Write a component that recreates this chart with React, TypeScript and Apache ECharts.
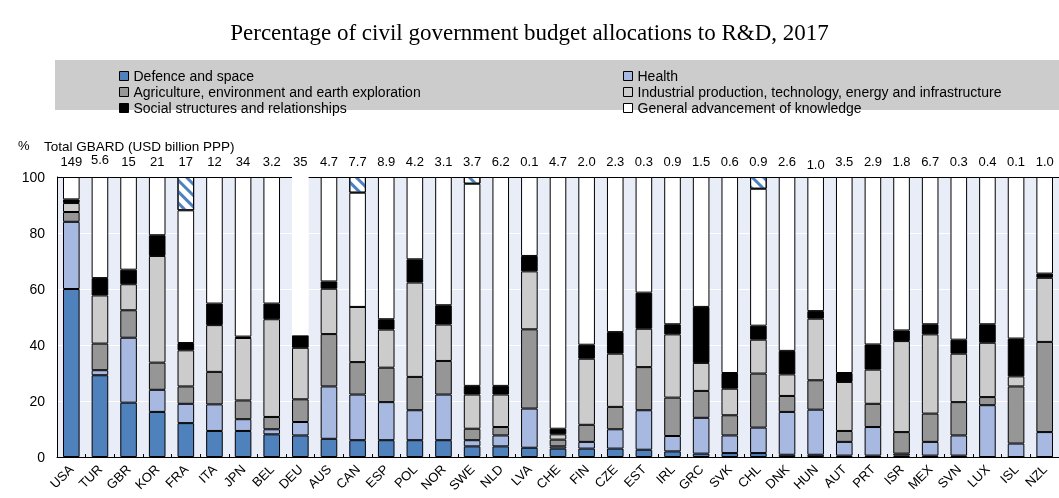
import React, { useEffect, useRef } from 'react';
import * as echarts from 'echarts';

const countries = ['USA','TUR','GBR','KOR','FRA','ITA','JPN','BEL','DEU','AUS','CAN','ESP','POL','NOR','SWE','NLD','LVA','CHE','FIN','CZE','EST','IRL','GRC','SVK','CHL','DNK','HUN','AUT','PRT','ISR','MEX','SVN','LUX','ISL','NZL'];
const gbard = ['149','5.6','15','21','17','12','34','3.2','35','4.7','7.7','8.9','4.2','3.1','3.7','6.2','0.1','4.7','2.0','2.3','0.3','0.9','1.5','0.6','0.9','2.6','1.0','3.5','2.9','1.8','6.7','0.3','0.4','0.1','1.0'];

const defence = [60,29.2,19.4,16.1,12.1,9.3,9.3,8.1,7.7,6.5,6,6,6,6,3.8,3.8,3.3,3,3,3,2.6,2,1.2,1.4,1.4,0.8,0.8,0.5,0.5,0.5,0.5,0.5,0,0,0];
const health = [24,1.8,23.2,7.9,6.9,9.5,4.2,1.8,4.8,18.7,16.3,13.6,10.7,16.3,2.2,3.9,14,0.8,2.4,6.9,14.1,5.5,12.8,6.3,9.1,15.3,16.1,4.9,10.2,0.7,4.9,7.2,18.5,4.8,8.9];
const agriculture = [3.5,9.5,9.8,9.7,6.2,11.6,6.7,4.4,8.1,18.7,11.6,12.3,11.9,12,4.1,3,28.3,2.4,6.1,8,15.4,13.7,9.6,7.2,19.3,5.7,10.5,3.9,8.3,7.7,10.1,11.9,2.9,20.4,32.2];
const industrial = [3.2,17.2,9.3,38.1,12.9,16.7,22.3,34.9,18.4,16.2,19.7,13.6,33.7,13,12.2,11.6,20.7,1.9,23.6,19,13.7,22.6,10,9.5,12.1,7.7,22,17.5,12.2,32.5,28.3,17.3,19.4,3.6,22.9];
const social = [1.3,6.2,5.2,7.4,2.6,7.7,0.5,5.6,4.5,2.6,0,3.7,8.3,6.9,3.1,3.1,5.5,2,5,7.7,12.9,3.6,20,5.6,5,8.4,2.7,3.2,9,3.8,3.6,5,6.6,13.5,1.5];
const general = [8,36.1,33.1,20.8,47.4,45.2,57,45.2,56.5,37.3,40.8,50.8,29.4,45.8,72.2,74.6,28.2,89.9,59.9,55.4,41.3,52.6,46.4,70,48.9,62.1,47.9,70,59.8,54.8,52.6,58.1,52.6,57.7,34.5];
const notClassified = [0,0,0,0,11.9,0,0,0,0,0,5.6,0,0,0,2.4,0,0,0,0,0,0,0,0,0,4.2,0,0,0,0,0,0,0,0,0,0];

const seriesNames = [
  'Defence and space',
  'Health',
  'Agriculture, environment and earth exploration',
  'Industrial production, technology, energy and infrastructure',
  'Social structures and relationships',
  'General advancement of knowledge',
];
const seriesColors = ['#4f81bd', '#a7b8e1', '#969696', '#cccccc', '#000000', '#ffffff'];
const seriesData = [defence, health, agriculture, industrial, social, general];

const raisedLabels = ['TUR'];
const loweredLabels = ['HUN'];
const borderlessGeneral = ['DEU'];

export default function App() {
  const ref = useRef<HTMLDivElement>(null);
  useEffect(() => {
    const chart = echarts.init(ref.current!, null, { renderer: 'svg' });
    const font = '"Liberation Sans", Arial, sans-serif';
    const series: any[] = seriesData.map((arr, si) => ({
      name: seriesNames[si],
      type: 'bar',
      stack: 'total',
      barWidth: '58%',
      itemStyle: { color: seriesColors[si], borderColor: '#000', borderWidth: 1 },
      data: arr.map((v, i) =>
        si === 5 && borderlessGeneral.includes(countries[i])
          ? { value: v, itemStyle: { borderWidth: 0 } }
          : v
      ),
    }));
    series.push({
      name: 'Not classified',
      type: 'bar',
      stack: 'total',
      barWidth: '58%',
      itemStyle: {
        color: '#ffffff',
        borderColor: '#000',
        borderWidth: 1,
        decal: {
          symbol: 'rect',
          symbolSize: 1,
          color: '#4f81bd',
          dashArrayX: [1, 0],
          dashArrayY: [3, 5],
          rotation: Math.PI / 4,
        },
      },
      data: notClassified.map((v) => (v === 0 ? '-' : v)),
    });

    const legendCommon = {
      orient: 'vertical',
      top: 63,
      itemWidth: 9,
      itemHeight: 9,
      itemGap: 0,
      icon: 'rect',
      selectedMode: false,
      itemStyle: { borderColor: '#000', borderWidth: 1 },
      textStyle: { fontFamily: font, fontSize: 14, lineHeight: 16, color: '#000' },
    };

    chart.setOption({
      animation: false,
      textStyle: { fontFamily: font },
      title: {
        text: 'Percentage of civil government budget allocations to R&D, 2017',
        left: 'center',
        top: 16,
        textStyle: { fontFamily: '"Liberation Serif", "Times New Roman", serif', fontSize: 23, fontWeight: 'normal', color: '#000' },
      },
      graphic: [
        { type: 'rect', shape: { x: 55, y: 60, width: 1010, height: 50 }, style: { fill: '#cccccc' }, z: 0 },
        { type: 'text', x: 18, y: 139, style: { text: '%', fontFamily: font, fontSize: 13, fill: '#000' } },
        { type: 'text', x: 44, y: 139, style: { text: 'Total GBARD (USD billion PPP)', fontFamily: font, fontSize: 13.5, fill: '#000' } },
      ],
      legend: [
        { ...legendCommon, left: 114, data: [seriesNames[0], seriesNames[2], seriesNames[4]] },
        { ...legendCommon, left: 618, data: [seriesNames[1], seriesNames[3], seriesNames[5]] },
      ],
      grid: { left: 57, right: -3, top: 177, bottom: 41, show: true, backgroundColor: '#e9edf7', borderWidth: 0 },
      xAxis: [
        {
          type: 'category',
          data: countries,
          position: 'bottom',
          axisLine: { lineStyle: { color: '#000', width: 1 } },
          axisTick: { show: true, inside: true, length: 3, interval: 0, lineStyle: { color: '#000' } },
          axisLabel: { show: true, rotate: 45, interval: 0, fontSize: 13, color: '#000', margin: 10, fontFamily: font },
        },
        {
          type: 'category',
          data: countries,
          position: 'top',
          axisLine: { show: false },
          axisTick: { show: false },
          axisLabel: {
            interval: 0,
            margin: 6,
            color: '#000',
            fontFamily: font,
            fontSize: 13,
            formatter: (v: string, i: number) => {
              const key = raisedLabels.includes(v) ? 'u' : loweredLabels.includes(v) ? 'd' : 'n';
              return `{${key}|${gbard[i]}}`;
            },
            rich: {
              n: { fontSize: 13, fontFamily: font, color: '#000', padding: [0, 0, 3, 0] },
              u: { fontSize: 13, fontFamily: font, color: '#000', padding: [0, 0, 5, 0] },
              d: { fontSize: 13, fontFamily: font, color: '#000', padding: [0, 0, 0, 0] },
            },
          },
        },
      ],
      yAxis: {
        type: 'value',
        min: 0,
        max: 100,
        interval: 20,
        axisLine: { show: true, lineStyle: { color: '#000', width: 1 } },
        axisTick: { show: false },
        axisLabel: { fontSize: 14, color: '#000', margin: 12, fontFamily: font },
        splitLine: { show: true, lineStyle: { color: ['#ffffff', '#ffffff', '#ffffff', '#ffffff', '#ffffff', '#000000'], width: 1 } },
      },
      series,
    });
    return () => chart.dispose();
  }, []);
  return <div ref={ref} style={{ position: 'fixed', left: 0, top: 0, width: 1059, height: 498 }} />;
}
